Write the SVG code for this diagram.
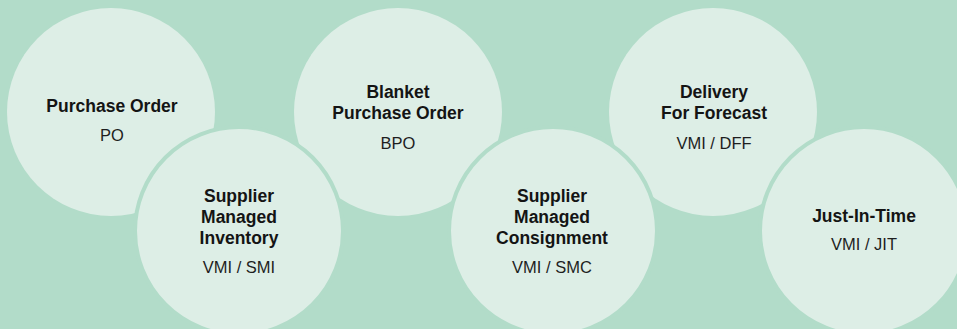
<svg xmlns="http://www.w3.org/2000/svg" width="957" height="329" viewBox="0 0 957 329">
<style>
.bg{fill:#b2dcc9}
.c{fill:#ddeee6}
.r{fill:#ddeee6;stroke:#b2dcc9;stroke-width:4}
.t{font-family:"Liberation Sans",Arial,sans-serif;font-weight:bold;font-size:17.5px;fill:#141414;text-anchor:middle}
.s{font-family:"Liberation Sans",Arial,sans-serif;font-size:16.5px;fill:#1e1e1e;text-anchor:middle}
</style>
<rect class="bg" x="0" y="0" width="957" height="329"/>
<g id="po">
<circle class="c" cx="111" cy="112" r="104"/>
<text class="t" x="112" y="112">Purchase Order</text>
<text class="s" x="112" y="141">PO</text>
</g>
<g id="bpo">
<circle class="c" cx="398" cy="112" r="104"/>
<text class="t" x="398" y="98">Blanket</text>
<text class="t" x="398" y="119">Purchase Order</text>
<text class="s" x="398" y="149">BPO</text>
</g>
<g id="dff">
<circle class="c" cx="713" cy="112" r="104"/>
<text class="t" x="714" y="98">Delivery</text>
<text class="t" x="714" y="119">For Forecast</text>
<text class="s" x="714" y="149">VMI / DFF</text>
</g>
<g id="smi">
<circle class="r" cx="239" cy="231" r="104"/>
<text class="t" x="239" y="202">Supplier</text>
<text class="t" x="239" y="223">Managed</text>
<text class="t" x="239" y="244">Inventory</text>
<text class="s" x="239" y="273">VMI / SMI</text>
</g>
<g id="smc">
<circle class="r" cx="553" cy="231" r="104"/>
<text class="t" x="552" y="202">Supplier</text>
<text class="t" x="552" y="223">Managed</text>
<text class="t" x="552" y="244">Consignment</text>
<text class="s" x="552" y="273">VMI / SMC</text>
</g>
<g id="jit">
<circle class="r" cx="864" cy="231" r="104"/>
<text class="t" x="864" y="222">Just-In-Time</text>
<text class="s" x="864" y="250">VMI / JIT</text>
</g>
<g id="connectors"></g>
</svg>
